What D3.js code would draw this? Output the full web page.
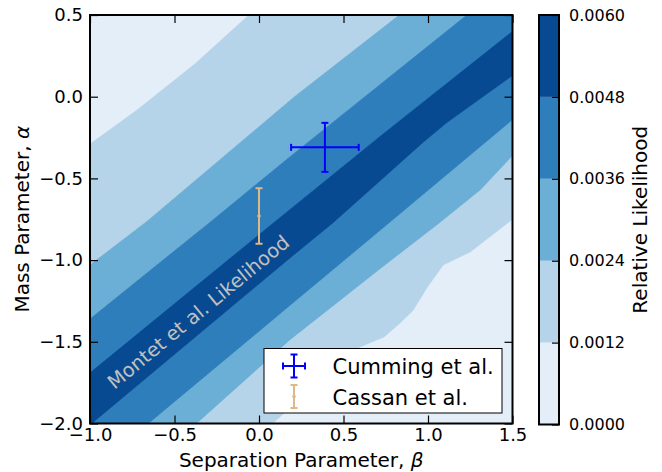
<!DOCTYPE html>
<html>
<head>
<meta charset="utf-8">
<script src="https://cdn.jsdelivr.net/npm/d3@7"></script>
<style>
  body { margin: 0; background: #fff; }
  text { font-family: "DejaVu Sans", sans-serif; }
</style>
</head>
<body>
<svg id="chart" width="662" height="472"></svg>
<script>
// Contour levels of the relative likelihood and their fill colours (Blues)
const levels = [0.0000, 0.0012, 0.0024, 0.0036, 0.0048, 0.0060];
const bandColors = ["#e3eef9", "#b6d4e9", "#6baed6", "#2e7ebc", "#084a92"];

// Iso-likelihood boundaries as (beta, alpha) polylines.
// "upper" lines lie above/left of the ridge, "lower" lines below/right of it.
const upper0012 = [[-1.00, -0.29], [-0.72, -0.08], [-0.38, 0.20], [-0.06, 0.50]];
const upper0024 = [[-1.00, -1.03], [-0.66, -0.76], [0.21, 0.00], [0.83, 0.50]];
const upper0036 = [[-1.00, -1.36], [-0.28, -0.76], [0.18, -0.37], [1.23, 0.50]];
const upper0048 = [[-1.00, -1.69], [0.10, -0.76], [0.72, -0.24], [1.50, 0.40]];
const lower0048 = [[-0.99, -2.00], [0.18, -0.99], [0.44, -0.77], [0.97, -0.28], [1.11, -0.16], [1.50, 0.13]];
const lower0036 = [[-0.655, -2.00], [0.18, -1.28], [0.83, -0.72], [1.50, -0.14]];
const lower0024 = [[-0.37, -2.00], [0.18, -1.49], [0.72, -1.05], [1.07, -0.77], [1.31, -0.57], [1.50, -0.36]];
const lower0012 = [[0.08, -2.00], [0.58, -1.54], [0.74, -1.47], [0.83, -1.39], [0.91, -1.31],
                   [1.00, -1.16], [1.09, -1.03], [1.25, -0.95], [1.50, -0.75]];

// Literature measurements: [beta, alpha] and errors
const cummingPoint = [0.39, -0.31];
const cummingErr = [0.20, 0.15];      // beta error, alpha error
const cassanPoint = [0.00, -0.73];
const cassanErr = [0.00, 0.17];

// Axis ticks
const xTicks = [-1.0, -0.5, 0.0, 0.5, 1.0, 1.5];
const yTicks = [-2.0, -1.5, -1.0, -0.5, 0.0, 0.5];
const cbTicks = levels;

const legendLabels = ["Cumming et al.", "Cassan et al."];

const svg = d3.select("#chart");

const x = d3.scaleLinear().domain([-1.0, 1.5]).range([90, 512.5]);
const y = d3.scaleLinear().domain([-2.0, 0.5]).range([423.5, 15]);

svg.append("defs").append("clipPath").attr("id", "plotClip")
  .append("rect")
  .attr("x", x(-1.0)).attr("y", y(0.5))
  .attr("width", x(1.5) - x(-1.0)).attr("height", y(-2.0) - y(0.5));

const plot = svg.append("g").attr("clip-path", "url(#plotClip)");

// lowest band fills the whole panel
plot.append("rect")
  .attr("x", x(-1.0)).attr("y", y(0.5))
  .attr("width", x(1.5) - x(-1.0)).attr("height", y(-2.0) - y(0.5))
  .attr("fill", bandColors[0]);

// Extend a boundary's end segments well past the panel so the strip closes outside it
function extended(line) {
  const p = line.map(d => [x(d[0]), y(d[1])]);
  const ext = (a, b) => {
    const dx = a[0] - b[0], dy = a[1] - b[1], n = Math.hypot(dx, dy);
    return [a[0] + dx / n * 700, a[1] + dy / n * 700];
  };
  return [ext(p[0], p[1]), ...p, ext(p[p.length - 1], p[p.length - 2])];
}

const uppers = [upper0012, upper0024, upper0036, upper0048];
const lowers = [lower0012, lower0024, lower0036, lower0048];
const pathGen = d3.line().curve(d3.curveLinear);

uppers.forEach((up, i) => {
  const poly = extended(up).concat(extended(lowers[i]).reverse());
  plot.append("path")
    .attr("d", pathGen(poly) + "Z")
    .attr("fill", bandColors[i + 1])
    .attr("stroke", bandColors[i + 1])
    .attr("stroke-width", 0.5);
});

// Label along the likelihood ridge
plot.append("text")
  .attr("transform", `translate(${x(-0.855)},${y(-1.795)}) rotate(-39.5)`)
  .attr("font-size", 19.5)
  .attr("fill", "#c0c0c0")
  .text("Montet et al. Likelihood");

// Error bars
function errorBar(g, px, py, ex, ey, color, cap, dot) {
  if (ex > 0) {
    g.append("line").attr("x1", px - ex).attr("x2", px + ex).attr("y1", py).attr("y2", py)
      .attr("stroke", color).attr("stroke-width", 2);
    [px - ex, px + ex].forEach(cx => g.append("line")
      .attr("x1", cx).attr("x2", cx).attr("y1", py - cap).attr("y2", py + cap)
      .attr("stroke", color).attr("stroke-width", 2));
  }
  if (ey > 0) {
    g.append("line").attr("x1", px).attr("x2", px).attr("y1", py - ey).attr("y2", py + ey)
      .attr("stroke", color).attr("stroke-width", 2);
    [py - ey, py + ey].forEach(cy => g.append("line")
      .attr("x1", px - cap).attr("x2", px + cap).attr("y1", cy).attr("y2", cy)
      .attr("stroke", color).attr("stroke-width", 2));
  }
  if (dot) g.append("circle").attr("cx", px).attr("cy", py).attr("r", 1.8).attr("fill", color);
}

const marks = svg.append("g");
errorBar(marks, x(cummingPoint[0]), y(cummingPoint[1]),
  x(cummingPoint[0] + cummingErr[0]) - x(cummingPoint[0]),
  y(cummingPoint[1]) - y(cummingPoint[1] + cummingErr[1]), "#0000ff", 3.5, false);
errorBar(marks, x(cassanPoint[0]), y(cassanPoint[1]),
  x(cassanPoint[0] + cassanErr[0]) - x(cassanPoint[0]),
  y(cassanPoint[1]) - y(cassanPoint[1] + cassanErr[1]), "#deb887", 3.5, true);

// Axes with inward ticks on all four sides
const fmt = d3.format(".1f");
function styleAxis(g, showLabels) {
  g.select(".domain").remove();
  g.selectAll(".tick line").attr("stroke", "#000").attr("stroke-width", 1.2);
  g.selectAll(".tick text").attr("fill", "#000").attr("font-size", 18)
    .style("font-family", "'DejaVu Sans', sans-serif");
  if (!showLabels) g.selectAll(".tick text").remove();
}
svg.append("g").attr("transform", `translate(0,${y(-2.0)})`)
  .call(d3.axisBottom(x).tickValues(xTicks).tickFormat(fmt).tickSize(-8).tickPadding(5))
  .call(g => styleAxis(g, true));
svg.append("g").attr("transform", `translate(0,${y(0.5)})`)
  .call(d3.axisTop(x).tickValues(xTicks).tickSize(-8))
  .call(g => styleAxis(g, false));
svg.append("g").attr("transform", `translate(${x(-1.0)},0)`)
  .call(d3.axisLeft(y).tickValues(yTicks).tickFormat(fmt).tickSize(-8).tickPadding(7))
  .call(g => styleAxis(g, true));
svg.append("g").attr("transform", `translate(${x(1.5)},0)`)
  .call(d3.axisRight(y).tickValues(yTicks).tickSize(-8))
  .call(g => styleAxis(g, false));

svg.append("rect")
  .attr("x", x(-1.0)).attr("y", y(0.5))
  .attr("width", x(1.5) - x(-1.0)).attr("height", y(-2.0) - y(0.5))
  .attr("fill", "none").attr("stroke", "#000").attr("stroke-width", 2);

// Axis titles
const xt = svg.append("text").attr("x", (x(-1.0) + x(1.5)) / 2).attr("y", 467)
  .attr("text-anchor", "middle").attr("font-size", 20).attr("fill", "#000");
xt.append("tspan").text("Separation Parameter, ");
xt.append("tspan").attr("font-style", "italic").text("β");

const yt = svg.append("text")
  .attr("transform", `translate(29,${(y(-2.0) + y(0.5)) / 2}) rotate(-90)`)
  .attr("text-anchor", "middle").attr("font-size", 20).attr("fill", "#000");
yt.append("tspan").text("Mass Parameter, ");
yt.append("tspan").attr("font-style", "italic").text("α");

// Legend
const lg = svg.append("g");
lg.append("rect").attr("x", 264).attr("y", 348.5).attr("width", 238).attr("height", 64.5)
  .attr("fill", "#fff").attr("stroke", "#000").attr("stroke-width", 1);
errorBar(lg, 294, 366, 11, 11.5, "#0000ff", 3.5, false);
errorBar(lg, 294, 396.5, 0, 11.5, "#deb887", 3.5, true);
legendLabels.forEach((t, i) => {
  lg.append("text").attr("x", 332.5).attr("y", 374 + i * 31)
    .attr("font-size", 21).attr("fill", "#000").text(t);
});

// Colour bar
const cb = d3.scaleLinear().domain([levels[0], levels[levels.length - 1]]).range([424.5, 15]);
const cbX = 539, cbW = 20;
const cbG = svg.append("g");
d3.range(bandColors.length).forEach(i => {
  cbG.append("rect")
    .attr("x", cbX).attr("y", cb(levels[i + 1]))
    .attr("width", cbW).attr("height", cb(levels[i]) - cb(levels[i + 1]))
    .attr("fill", bandColors[i]);
});
const cbAxis = svg.append("g").attr("transform", `translate(${cbX + cbW},0)`)
  .call(d3.axisRight(cb).tickValues(cbTicks).tickFormat(d3.format(".4f")).tickSize(-7).tickPadding(10));
cbAxis.select(".domain").remove();
cbAxis.selectAll(".tick line").attr("stroke", "#000").attr("stroke-width", 1.2);
cbAxis.selectAll(".tick text").attr("fill", "#000").attr("font-size", 16)
  .style("font-family", "'DejaVu Sans', sans-serif");
cbG.append("rect").attr("x", cbX).attr("y", cb(levels[levels.length - 1]))
  .attr("width", cbW).attr("height", cb(levels[0]) - cb(levels[levels.length - 1]))
  .attr("fill", "none").attr("stroke", "#000").attr("stroke-width", 2);

svg.append("text")
  .attr("transform", `translate(647,${(cb(levels[0]) + cb(levels[levels.length - 1])) / 2}) rotate(-90)`)
  .attr("text-anchor", "middle").attr("font-size", 20).attr("fill", "#000")
  .text("Relative Likelihood");
</script>
</body>
</html>
